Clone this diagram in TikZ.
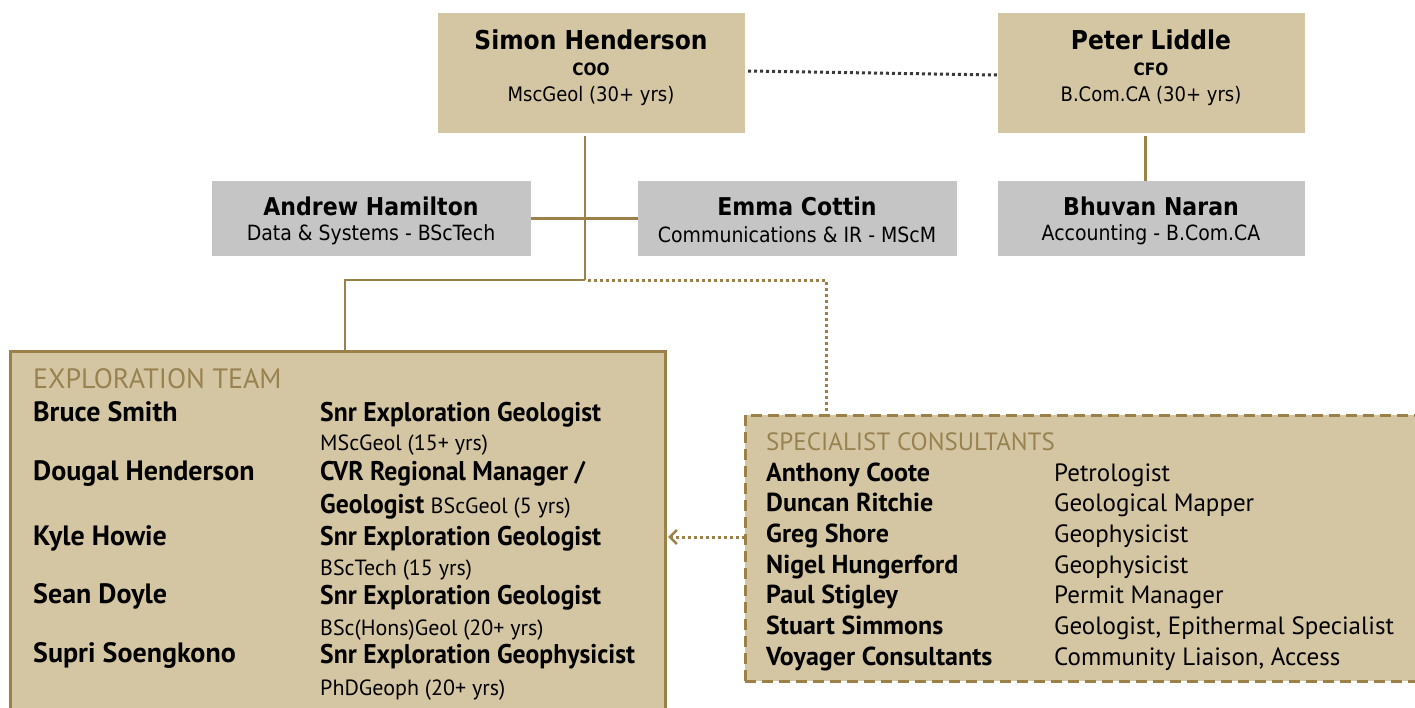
\documentclass[tikz,border=0pt]{standalone}
\usepackage{fontspec}
\setmainfont{DejaVu Sans}
\newfontfamily\topf[FakeStretch=0.9]{DejaVu Sans}
\newfontfamily\condf{PT Sans}
\newfontfamily\condn[FakeStretch=0.95]{PT Sans}
\usetikzlibrary{arrows.meta}
\definecolor{beige}{HTML}{D5C6A3}
\definecolor{greybox}{HTML}{C4C5C4}
\definecolor{gold}{HTML}{9B8148}
\definecolor{headgold}{HTML}{978250}
\definecolor{dotgrey}{HTML}{3A3A3A}
\tikzset{
  box/.style={inner sep=0pt, outer sep=0pt, anchor=north west},
  beigebox/.style={box, fill=beige},
  greybx/.style={box, fill=greybox},
  goldline/.style={draw=gold, line width=2.6pt},
  dotline/.style={line width=3pt, dash pattern=on 3pt off 3pt},
  tname/.style={inner sep=0pt, font=\topf\bfseries\fontsize{26}{30}\selectfont},
  tsub/.style={inner sep=0pt, font=\topf\fontsize{20}{24}\selectfont},
  tsubb/.style={inner sep=0pt, font=\topf\bfseries\fontsize{17}{22}\selectfont},
  mname/.style={inner sep=0pt, font=\topf\bfseries\fontsize{24.5}{28}\selectfont},
  msub/.style={inner sep=0pt, font=\topf\fontsize{21}{24}\selectfont},
  txt/.style={inner sep=0pt, anchor=base west},
  head/.style={txt, text=headgold, font=\condf\fontsize{28}{32}\selectfont},
  ename/.style={txt, font=\condf\bfseries\fontsize{28}{32}\selectfont},
  erole/.style={txt, font=\condn\bfseries\fontsize{27}{32}\selectfont},
  esub/.style={txt, font=\condf\fontsize{22}{26}\selectfont},
  cname/.style={txt, font=\condf\bfseries\fontsize{26}{30}\selectfont},
  crole/.style={txt, font=\condf\fontsize{25}{30}\selectfont},
}
\begin{document}
\begin{tikzpicture}[x=1pt,y=-1pt]
\clip (0,0) rectangle (1415,707);
\fill[white] (0,0) rectangle (1415,707);

% top boxes
\node[beigebox, minimum width=307pt, minimum height=120pt] (simon) at (438,13) {};
\node[beigebox, minimum width=307pt, minimum height=120pt] (peter) at (998,13) {};
\node[greybx, minimum width=319pt, minimum height=75pt] (andrew) at (212,181) {};
\node[greybx, minimum width=319pt, minimum height=75pt] (emma) at (638,181) {};
\node[greybx, minimum width=307pt, minimum height=75pt] (bhuvan) at (998,181) {};

\node[tname] (simonn) at (591,40) {Simon Henderson};
\node[tsubb] (simonr) at (591,69) {COO};
\node[tsub] (simonq) at (591,96) {MscGeol (30+ yrs)};
\node[tname] (petern) at (1151,40) {Peter Liddle};
\node[tsubb] (peterr) at (1151,69) {CFO};
\node[tsub] (peterq) at (1151,96) {B.Com.CA (30+ yrs)};

\node[mname] (andrewn) at (371,206) {Andrew Hamilton};
\node[msub] (andrewr) at (371,235) {Data \& Systems - BScTech};
\node[mname] (emman) at (797,206) {Emma Cottin};
\node[msub] (emmar) at (797,235) {Communications \& IR - MScM};
\node[mname] (bhuvann) at (1151,206) {Bhuvan Naran};
\node[msub] (bhuvanr) at (1151,235) {Accounting - B.Com.CA};

% team boxes
\node[beigebox, draw=gold, line width=3pt, minimum width=655pt, minimum height=370pt] (explore) at (10,351) {};
\node[beigebox, draw=gold, line width=3pt, dash pattern=on 11pt off 6pt, minimum width=700pt, minimum height=266pt] (cons) at (745,415) {};

% connectors
\coordinate (j1) at (585,280);
\coordinate (j2) at (345,280);
\coordinate (j3) at (826,280);
\coordinate (ya) at (0,537);
\draw[goldline] (simon.south -| j1) ++(0,3) -- (j1);
\draw[goldline] (andrew.east) -- (emma.west);
\draw[goldline] (j1) -- (j2) -- (j2 |- explore.north);
\draw[gold, dotline] (j1) ++(3,0) -- (j3) -- (j3 |- cons.north);
\draw[dotgrey, dotline] (simon.east) ++(3,-2) -- ([xshift=-1pt,yshift=-2pt]peter.west);
\draw[goldline] (peter.south) ++(-6,3) -- ([xshift=-6pt]bhuvan.north);
\draw[gold, dotline, shorten >=3pt, -{Straight Barb[length=7pt,width=14pt,line width=2.5pt]}] (cons.west |- ya) -- (explore.east |- ya);

% exploration team text
\node[head] (ehead) at (33,388) {EXPLORATION TEAM};
\node[ename] (e1n) at (33,421) {Bruce Smith};
\node[erole] (e1r) at (320,421) {Snr Exploration Geologist};
\node[esub] (e1q) at (320,450) {MScGeol (15+ yrs)};
\node[ename] (e2n) at (33,480) {Dougal Henderson};
\node[erole] (e2r) at (320,480) {CVR Regional Manager /};
\node[erole] (e2q) at (320,513) {Geologist {\condf\mdseries\fontsize{22}{26}\selectfont BScGeol (5 yrs)}};
\node[ename] (e3n) at (33,545) {Kyle Howie};
\node[erole] (e3r) at (320,545) {Snr Exploration Geologist};
\node[esub] (e3q) at (320,575) {BScTech (15 yrs)};
\node[ename] (e4n) at (33,603) {Sean Doyle};
\node[erole] (e4r) at (320,604) {Snr Exploration Geologist};
\node[esub] (e4q) at (320,635) {BSc(Hons)Geol (20+ yrs)};
\node[ename] (e5n) at (33,662) {Supri Soengkono};
\node[erole] (e5r) at (320,663) {Snr Exploration Geophysicist};
\node[esub] (e5q) at (320,695) {PhDGeoph (20+ yrs)};

% specialist consultants text
\node[head, font=\condf\fontsize{25}{29}\selectfont] (chead) at (766,450) {SPECIALIST CONSULTANTS};
\node[cname] (c1n) at (766,481) {Anthony Coote};
\node[crole] (c1r) at (1054,481) {Petrologist};
\node[cname] (c2n) at (766,511) {Duncan Ritchie};
\node[crole] (c2r) at (1054,511) {Geological Mapper};
\node[cname] (c3n) at (766,542) {Greg Shore};
\node[crole] (c3r) at (1054,542) {Geophysicist};
\node[cname] (c4n) at (766,573) {Nigel Hungerford};
\node[crole] (c4r) at (1054,573) {Geophysicist};
\node[cname] (c5n) at (766,603) {Paul Stigley};
\node[crole] (c5r) at (1054,603) {Permit Manager};
\node[cname] (c6n) at (766,634) {Stuart Simmons};
\node[crole] (c6r) at (1054,634) {Geologist, Epithermal Specialist};
\node[cname] (c7n) at (766,665) {Voyager Consultants};
\node[crole] (c7r) at (1054,665) {Community Liaison, Access};
\end{tikzpicture}
\end{document}
